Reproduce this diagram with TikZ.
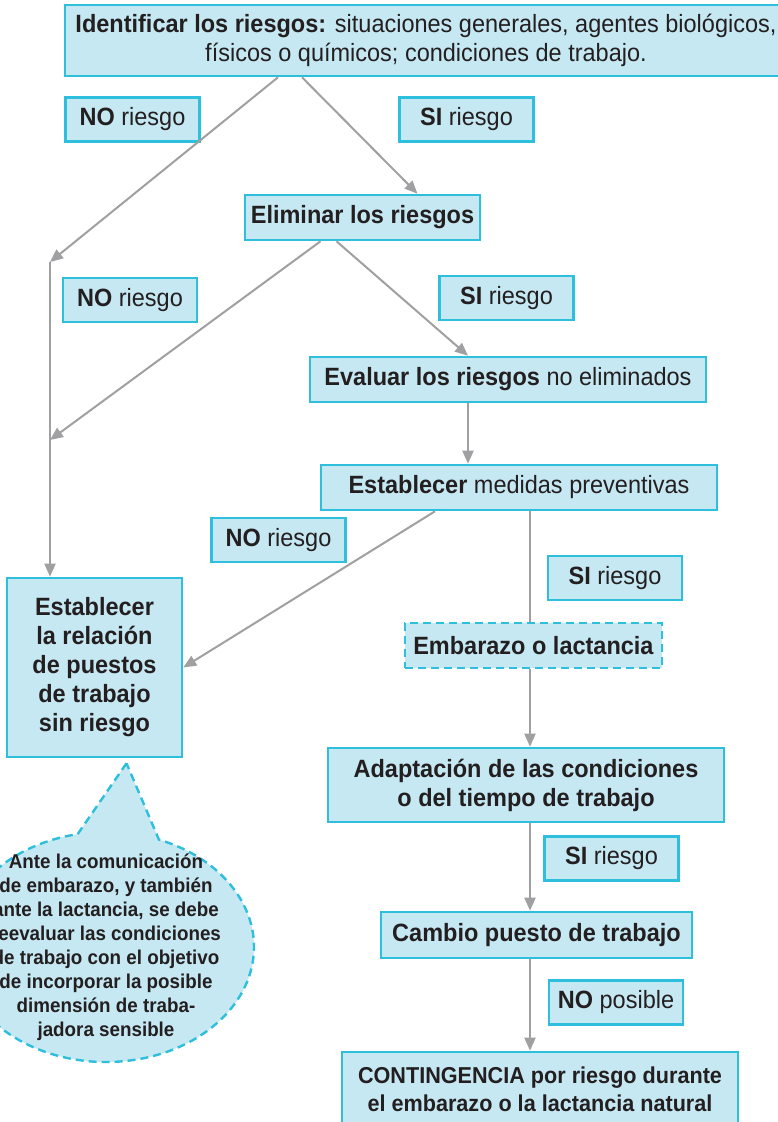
\documentclass[tikz,border=0pt]{standalone}
\usepackage{fontspec}
\setmainfont{Liberation Sans}[FakeStretch=0.94]
\usetikzlibrary{arrows.meta}
\usetikzlibrary{shapes.callouts}
\definecolor{boxfill}{HTML}{C6E8F2}
\definecolor{boxline}{HTML}{2DBFDB}
\definecolor{arrowgray}{HTML}{A0A0A3}
\definecolor{ink}{HTML}{231F20}
\tikzset{
	stepbox/.style={
		draw=boxline,
		fill=boxfill,
		line width=2.6pt,
		inner sep=0pt,
		align=center,
		text=ink,
		font=\fontsize{25}{29}\selectfont,
	},
	heavy/.style={
		font=\bfseries\fontsize{25}{29}\selectfont,
	},
	answer/.style={
		stepbox,
		minimum width=134pt,
		minimum height=44pt,
	},
	pending/.style={
		stepbox,
		dash pattern=on 8pt off 5pt,
	},
	note/.style={
		ellipse callout,
		draw=boxline,
		fill=boxfill,
		line width=2.4pt,
		dash pattern=on 8pt off 5pt,
		inner sep=-18pt,
		align=center,
		text=ink,
		font=\bfseries\fontsize{20}{24}\selectfont,
	},
	link/.style={
		draw=arrowgray,
		line width=2pt,
	},
	flow/.style={
		link,
		-{Triangle[length=13pt,width=11pt]}
	},
}

\begin{document}
\begin{tikzpicture}[x=1pt,y=-1pt]
	\useasboundingbox (0,0) rectangle (777,1122);

	\node[stepbox, minimum width=722pt, minimum height=71pt] (ident) at (426,40.5) {\textbf{Identificar los riesgos:} situaciones generales, agentes biológicos,\\ físicos o químicos; condiciones de trabajo.};

	\node[answer] (no1) at (132.5,119.5) {\textbf{NO} riesgo};
	\node[answer] (si1) at (466.5,119.5) {\textbf{SI} riesgo};

	\node[stepbox, minimum width=235pt, minimum height=45pt] (elim) at (362.5,217.5) {\textbf{Eliminar los riesgos}};

	\node[answer] (no2) at (130,300) {\textbf{NO} riesgo};
	\node[answer] (si2) at (506.5,298) {\textbf{SI} riesgo};

	\node[stepbox, minimum width=396pt, minimum height=45pt] (eval) at (508,379.5) {\textbf{Evaluar los riesgos} no eliminados};
	\node[stepbox, minimum width=396pt, minimum height=45pt] (medidas) at (519,487.5) {\textbf{Establecer} medidas preventivas};

	\node[answer] (no3) at (278.5,540) {\textbf{NO} riesgo};
	\node[answer] (si3) at (615,578) {\textbf{SI} riesgo};

	\node[pending, minimum width=257pt, minimum height=45pt] (embarazo) at (533.5,645.5) {\textbf{Embarazo o lactancia}};

	\node[stepbox, heavy, minimum width=175pt, minimum height=179pt] (relacion) at (94.5,667.5) {Establecer\\ la relación\\ de puestos\\ de trabajo\\ sin riesgo};

	\node[stepbox, heavy, minimum width=396pt, minimum height=74pt] (adapt) at (526,785) {Adaptación de las condiciones\\ o del tiempo de trabajo};
	\node[answer] (si4) at (611.5,858.5) {\textbf{SI} riesgo};
	\node[stepbox, heavy, minimum width=311pt, minimum height=46pt] (cambio) at (536.5,935) {Cambio puesto de trabajo};
	\node[answer] (noposible) at (616,1002.5) {\textbf{NO} posible};
	\node[stepbox, heavy, font=\bfseries\fontsize{23}{28}\selectfont, minimum width=396pt, minimum height=74pt] (conting) at (540,1089) {CONTINGENCIA por riesgo durante\\ el embarazo o la lactancia natural};

	\node[note, callout pointer arc=32, callout absolute pointer={([xshift=32pt,yshift=-5pt]relacion.south)}, minimum width=296pt, minimum height=230pt] (aviso) at (106,947) {Ante la comunicación\\ de embarazo, y también\\ ante la lactancia, se debe\\ reevaluar las condiciones\\ de trabajo con el objetivo\\ de incorporar la posible\\ dimensión de traba-\\ jadora sensible};

	\coordinate (j1) at (50,262);
	\coordinate (j2) at (50,440);

	\draw[flow] ([xshift=-148pt]ident.south) -- (j1);
	\draw[flow] ([xshift=-124pt]ident.south) -- ([xshift=55pt]elim.north);
	\draw[flow] (j1) -- (j1 |- relacion.north);
	\draw[flow] ([xshift=-42pt]elim.south) -- (j2);
	\draw[flow] ([xshift=-26pt]elim.south) -- ([xshift=-40pt]eval.north);
	\draw[flow] ([xshift=-40pt]eval.south) -- ([xshift=-51pt]medidas.north);
	\draw[flow] ([xshift=-84pt]medidas.south) -- (relacion.east);
	\draw[link] ([xshift=11pt]medidas.south) -- ([xshift=-3.5pt]embarazo.north);
	\draw[flow] ([xshift=-3.5pt]embarazo.south) -- ([xshift=4pt]adapt.north);
	\draw[flow] ([xshift=4pt]adapt.south) -- ([xshift=-6.5pt]cambio.north);
	\draw[flow] ([xshift=-6.5pt]cambio.south) -- ([xshift=-10pt]conting.north);
\end{tikzpicture}
\end{document}
